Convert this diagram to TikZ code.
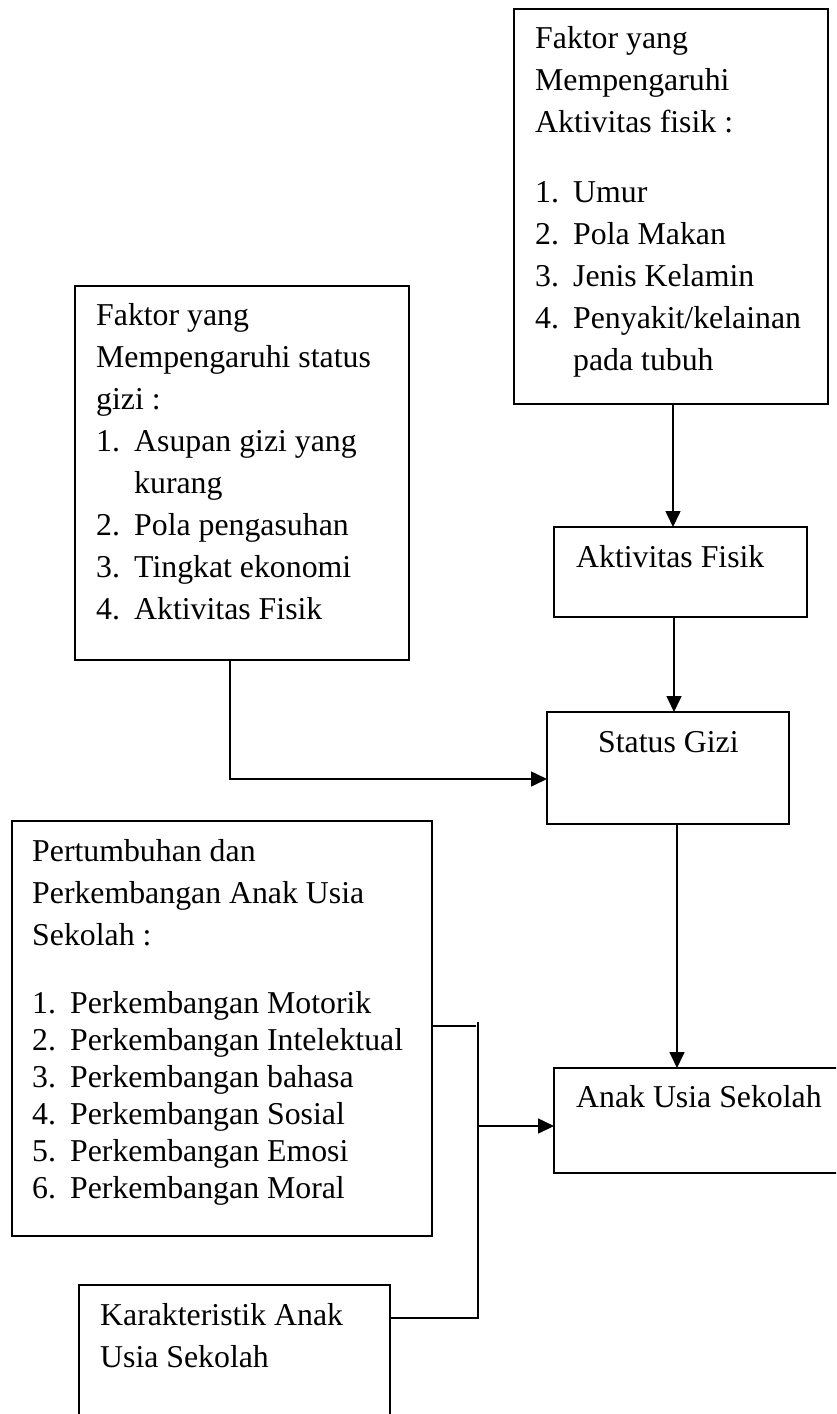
\documentclass[tikz,border=0pt]{standalone}
\usepackage{fontspec}
\setmainfont{Liberation Serif}
\usetikzlibrary{arrows.meta}
\newcommand{\numit}[2]{\makebox[38pt][l]{#1}#2}
\begin{document}
\begin{tikzpicture}[x=1pt,y=-1pt,
  box/.style={draw, line width=1.6pt, anchor=north west, inner sep=0pt, outer sep=0pt},
  txt/.style={anchor=base west, inner sep=0pt, font=\fontsize{31.8}{42}\selectfont},
  listtxt/.style={anchor=base west, inner sep=0pt, font=\fontsize{31.8}{37}\selectfont},
  conn/.style={line width=1.6pt},
  arr/.style={conn, -{Triangle[length=16pt,width=15pt]}}]
\clip (0,0) rectangle (836,1414);
\fill[white] (0,0) rectangle (836,1414);

% boxes
\node[box, minimum width=314pt, minimum height=395pt] (b1) at (514,9) {};
\node[box, minimum width=334pt, minimum height=374pt] (b2) at (75,286) {};
\node[box, minimum width=253pt, minimum height=90pt] (b3) at (554,527) {};
\node[box, minimum width=242pt, minimum height=112pt] (b4) at (547,712) {};
\node[box, minimum width=420pt, minimum height=415pt] (b5) at (12,821) {};
\node[box, minimum width=300pt, minimum height=105pt] (b6) at (554,1068) {};
\node[box, minimum width=311pt, minimum height=170pt] (b7) at (79,1285) {};

% texts
\node[txt] (t1a) at (535,48) {\parbox[t]{300pt}{Faktor yang\\Mempengaruhi\\Aktivitas fisik :}};
\node[txt] (t1b) at (535,202) {\parbox[t]{300pt}{\numit{1.}{Umur}\\\numit{2.}{Pola Makan}\\\numit{3.}{Jenis Kelamin}\\\numit{4.}{Penyakit/kelainan}\\\hspace*{38pt}pada tubuh}};

\node[txt] (t2) at (96,325) {\parbox[t]{310pt}{Faktor yang\\Mempengaruhi status\\gizi :\\\numit{1.}{Asupan gizi yang}\\\hspace*{38pt}kurang\\\numit{2.}{Pola pengasuhan}\\\numit{3.}{Tingkat ekonomi}\\\numit{4.}{Aktivitas Fisik}}};

\node[txt] (t3) at (576,567) {Aktivitas Fisik};
\node[txt] (t4) at (598,752) {Status Gizi};
\node[txt] (t6) at (576,1107) {Anak Usia Sekolah};

\node[txt] (t5a) at (32,861) {\parbox[t]{400pt}{Pertumbuhan dan\\Perkembangan Anak Usia\\Sekolah :}};
\node[listtxt] (t5b) at (32,1013) {\parbox[t]{400pt}{\numit{1.}{Perkembangan Motorik}\\\numit{2.}{Perkembangan Intelektual}\\\numit{3.}{Perkembangan bahasa}\\\numit{4.}{Perkembangan Sosial}\\\numit{5.}{Perkembangan Emosi}\\\numit{6.}{Perkembangan Moral}}};

\node[txt] (t7) at (100,1325) {\parbox[t]{290pt}{Karakteristik Anak\\Usia Sekolah}};

% junction coordinates
\coordinate (cx1) at (673,0);
\coordinate (cx2) at (674,0);
\coordinate (cx3) at (677,0);
\coordinate (j1) at (230,779);
\coordinate (j2) at (478,1126);
\coordinate (j3) at (478,1026);
\coordinate (j4) at (478,1318);

% connectors
\draw[arr] (b1.south -| cx1) -- (b3.north -| cx1);
\draw[arr] (b3.south -| cx2) -- (b4.north -| cx2);
\draw[arr] (b4.south -| cx3) -- (b6.north -| cx3);
\draw[arr] (b2.south -| j1) -- (j1) -- (j1 -| b4.west);
\draw[conn] (j3 -| b5.east) -- ([xshift=-2pt]j3);
\draw[conn] ([yshift=4pt]j3) -- (j4) -- (j4 -| b7.east);
\draw[arr] (j2) -- (j2 -| b6.west);
\end{tikzpicture}
\end{document}
